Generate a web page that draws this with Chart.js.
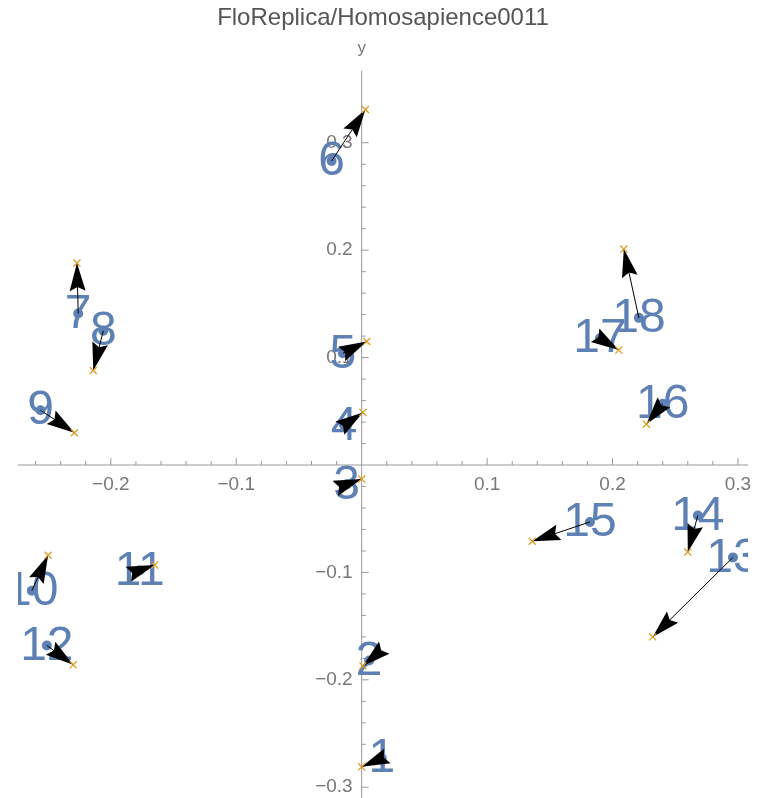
<!DOCTYPE html>
<html>
<head>
<meta charset="utf-8">
<script src="https://cdn.jsdelivr.net/npm/chart.js@4"></script>
<style>
  html, body { margin: 0; padding: 0; background: #fff; }
  #wrap { width: 767px; height: 798px; }
</style>
</head>
<body>
<div id="wrap"><canvas id="myChart" width="767" height="798"></canvas></div>
<script>
// point names and arrow start (dot) / end (cross) coordinates
const names = ['1', '2', '3', '4', '5', '6', '7', '8', '9', '10', '11', '12', '13', '14', '15', '16', '17', '18'];
const startX = [0.016, 0.006, -0.012, -0.014, -0.015, -0.024, -0.226, -0.206, -0.256, -0.263, -0.177, -0.251, 0.296, 0.268, 0.182, 0.240, 0.190, 0.221];
const startY = [-0.273, -0.182, -0.018, 0.037, 0.104, 0.283, 0.141, 0.125, 0.051, -0.117, -0.098, -0.168, -0.086, -0.047, -0.053, 0.057, 0.118, 0.137];
const endX = [0.000, 0.001, 0.000, 0.001, 0.004, 0.003, -0.227, -0.214, -0.229, -0.250, -0.165, -0.230, 0.232, 0.260, 0.136, 0.227, 0.205, 0.209];
const endY = [-0.281, -0.187, -0.013, 0.049, 0.115, 0.331, 0.188, 0.088, 0.030, -0.084, -0.093, -0.186, -0.160, -0.081, -0.071, 0.038, 0.107, 0.201];

const xTicks = [-0.2, -0.1, 0.1, 0.2, 0.3];
const yTicks = [-0.3, -0.2, -0.1, 0.1, 0.2, 0.3];
const xRange = [-0.274, 0.308];
const yRange = [-0.31, 0.367];

const blue = 'rgb(94,129,181)';
const orange = 'rgb(224,156,36)';
const axisColor = '#999';
const tickTextColor = '#777';
const fontFamily = '"Liberation Sans", Arial, sans-serif';

const starts = startX.map((x, i) => ({ x: x, y: startY[i] }));
const ends = endX.map((x, i) => ({ x: x, y: endY[i] }));

function fmt(v) {
    const s = Math.abs(v).toFixed(1);
    return v < 0 ? '\u2212' + s : s;
}

// axes through the origin, Mathematica style
const axesPlugin = {
    id: 'axes',
    beforeDatasetsDraw(chart) {
        const ctx = chart.ctx;
        const xs = chart.scales.x, ys = chart.scales.y;
        const area = chart.chartArea;
        const ax = xs.getPixelForValue(0);
        const ay = ys.getPixelForValue(0);

        ctx.save();
        ctx.strokeStyle = axisColor;
        ctx.lineWidth = 1;
        ctx.beginPath();
        ctx.moveTo(area.left, ay);
        ctx.lineTo(area.right, ay);
        ctx.moveTo(ax, area.top);
        ctx.lineTo(ax, area.bottom);
        ctx.stroke();

        // minor + major ticks every 0.02
        ctx.beginPath();
        for (let k = -15; k <= 15; k++) {
            const v = k * 0.02;
            const major = k % 5 === 0;
            const len = major ? 7 : 4;
            if (k === 0) continue;
            if (v >= xRange[0] && v <= xRange[1]) {
                const px = xs.getPixelForValue(v);
                ctx.moveTo(px, ay);
                ctx.lineTo(px, ay - len);
            }
            if (v >= yRange[0] && v <= yRange[1]) {
                const py = ys.getPixelForValue(v);
                ctx.moveTo(ax, py);
                ctx.lineTo(ax + len, py);
            }
        }
        ctx.stroke();

        ctx.fillStyle = tickTextColor;
        ctx.font = '19px ' + fontFamily;
        ctx.textBaseline = 'middle';
        ctx.textAlign = 'center';
        xTicks.forEach(v => ctx.fillText(fmt(v), xs.getPixelForValue(v), ay + 20));
        ctx.textAlign = 'right';
        yTicks.forEach(v => ctx.fillText(fmt(v), ax - 9, ys.getPixelForValue(v)));

        // axis label
        ctx.textAlign = 'center';
        ctx.font = '17px ' + fontFamily;
        ctx.fillText('y', ax, 48);

        // point labels, centred on the dots
        ctx.beginPath();
        ctx.rect(area.left, area.top, area.right - area.left, area.bottom - area.top);
        ctx.clip();
        ctx.fillStyle = blue;
        ctx.font = '48px ' + fontFamily;
        ctx.textAlign = 'center';
        ctx.textBaseline = 'middle';
        names.forEach((n, i) => {
            ctx.fillText(n, xs.getPixelForValue(startX[i]), ys.getPixelForValue(startY[i]) + 1);
        });
        ctx.restore();
    },
    afterDatasetDraw(chart, args) {
        if (args.index !== 1) return;
        const ctx = chart.ctx;
        const xs = chart.scales.x, ys = chart.scales.y;
        const headLen = 28, headHalf = 8, notch = 4;
        ctx.save();
        ctx.strokeStyle = '#000';
        ctx.fillStyle = '#000';
        ctx.lineWidth = 1;
        for (let i = 0; i < names.length; i++) {
            const x0 = xs.getPixelForValue(startX[i]), y0 = ys.getPixelForValue(startY[i]);
            const x1 = xs.getPixelForValue(endX[i]), y1 = ys.getPixelForValue(endY[i]);
            const a = Math.atan2(y1 - y0, x1 - x0);
            const c = Math.cos(a), s = Math.sin(a);
            ctx.beginPath();
            ctx.moveTo(x0, y0);
            ctx.lineTo(x1, y1);
            ctx.stroke();
            ctx.beginPath();
            ctx.moveTo(x1, y1);
            ctx.lineTo(x1 - headLen * c - headHalf * s, y1 - headLen * s + headHalf * c);
            ctx.lineTo(x1 - (headLen - notch) * c, y1 - (headLen - notch) * s);
            ctx.lineTo(x1 - headLen * c + headHalf * s, y1 - headLen * s - headHalf * c);
            ctx.closePath();
            ctx.fill();
        }
        ctx.restore();
    }
};

const ctx = document.getElementById('myChart').getContext('2d');
const myChart = new Chart(ctx, {
    type: 'scatter',
    data: {
        datasets: [
            {
                label: 'end',
                data: ends,
                pointStyle: 'crossRot',
                pointRadius: 5,
                borderColor: orange,
                backgroundColor: orange,
                borderWidth: 1.3
            },
            {
                label: 'start',
                data: starts,
                pointStyle: 'circle',
                pointRadius: 5,
                backgroundColor: blue,
                borderWidth: 0
            }
        ]
    },
    options: {
        responsive: false,
        animation: false,
        layout: { autoPadding: false, padding: { left: 18, right: 19, top: 0, bottom: 0 } },
        plugins: {
            legend: { display: false },
            tooltip: { enabled: false },
            title: {
                display: true,
                text: 'FloReplica/Homosapience0011',
                color: '#555',
                font: { family: fontFamily, size: 24, weight: 'normal' },
                padding: { top: 4, bottom: 38 }
            }
        },
        scales: {
            x: { type: 'linear', min: xRange[0], max: xRange[1], display: false },
            y: { type: 'linear', min: yRange[0], max: yRange[1], display: false }
        }
    },
    plugins: [axesPlugin]
});
</script>
</body>
</html>
